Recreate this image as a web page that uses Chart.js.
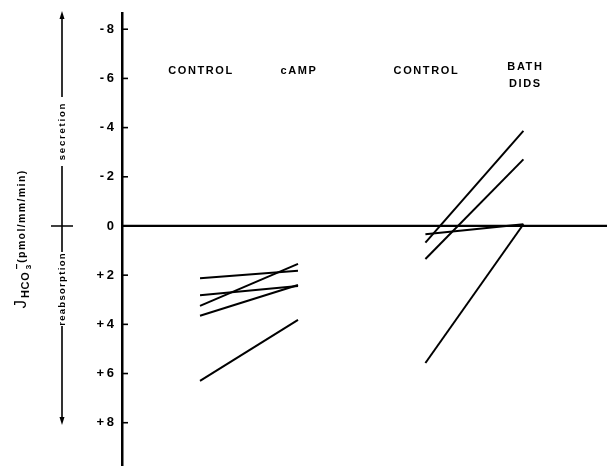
<!DOCTYPE html>
<html>
<head>
<meta charset="utf-8">
<script src="https://cdn.jsdelivr.net/npm/chart.js@4"></script>
<style>
  html, body { margin: 0; padding: 0; background: #fff; }
  #wrap { width: 607px; height: 466px; }
</style>
</head>
<body>
<div id="wrap"><canvas id="chart"></canvas></div>
<script>
// groups along the x axis
const groupLabels = [['CONTROL'], ['cAMP'], ['CONTROL'], ['BATH', 'DIDS']];
const groupX = [1, 2, 3.3, 4.3];
const yTicks = [-8, -6, -4, -2, 0, 2, 4, 6, 8];

// J HCO3- per tubule (negative = secretion, positive = reabsorption)
const campControl = [2.13, 3.25, 2.82, 3.65, 6.30];
const campAfter = [1.82, 1.54, 2.44, 2.40, 3.82];
const didsControl = [0.68, 1.34, 0.34, 5.57];
const didsAfter = [-3.87, -2.71, -0.07, -0.07];

const FONT = '"Liberation Sans", Arial, sans-serif';

function pairs(before, after, x0, x1) {
    return before.map((v, i) => ({
        data: [{ x: x0, y: v }, { x: x1, y: after[i] }],
        borderColor: '#000',
        borderWidth: 2,
        pointRadius: 0,
        fill: false
    }));
}

const datasets = [
    ...pairs(campControl, campAfter, groupX[0], groupX[1]),
    ...pairs(didsControl, didsAfter, groupX[2], groupX[3])
];

function arrowHead(ctx, x, y, dir) {
    ctx.beginPath();
    ctx.moveTo(x, y);
    ctx.lineTo(x - 2.5, y - dir * 8);
    ctx.lineTo(x + 2.5, y - dir * 8);
    ctx.closePath();
    ctx.fill();
}

function rotatedText(ctx, text, x, y, font, spacing) {
    ctx.save();
    ctx.translate(x, y);
    ctx.rotate(-Math.PI / 2);
    ctx.font = font;
    ctx.letterSpacing = spacing;
    ctx.textAlign = 'center';
    ctx.textBaseline = 'middle';
    ctx.fillText(text, 0, 0);
    ctx.restore();
}

const decorations = {
    id: 'decorations',
    afterDraw(chart) {
        const ctx = chart.ctx;
        const xs = chart.scales.x;
        const ys = chart.scales.y;
        const left = chart.chartArea.left;
        ctx.save();
        ctx.fillStyle = '#000';
        ctx.strokeStyle = '#000';

        // zero line
        const y0 = ys.getPixelForValue(0);
        ctx.lineWidth = 2.2;
        ctx.beginPath();
        ctx.moveTo(left, y0);
        ctx.lineTo(chart.chartArea.right, y0);
        ctx.stroke();

        // tick marks on the inside of the axis
        ctx.lineWidth = 1.6;
        yTicks.forEach(v => {
            const y = ys.getPixelForValue(v);
            ctx.beginPath();
            ctx.moveTo(left, y);
            ctx.lineTo(left + 6, y);
            ctx.stroke();
        });

        // group labels
        ctx.font = 'bold 11px ' + FONT;
        ctx.letterSpacing = '1.6px';
        ctx.textAlign = 'center';
        ctx.textBaseline = 'middle';
        groupLabels.forEach((lines, i) => {
            const x = xs.getPixelForValue(groupX[i]);
            if (lines.length === 1) {
                ctx.fillText(lines[0], x + 1, 71);
            } else {
                ctx.fillText(lines[0], x + 2, 67);
                ctx.fillText(lines[1], x + 2, 84);
            }
        });

        // secretion / reabsorption arrow
        const ax = 62;
        ctx.lineWidth = 1.6;
        ctx.beginPath();
        ctx.moveTo(ax, 18); ctx.lineTo(ax, 97);
        ctx.moveTo(ax, 166); ctx.lineTo(ax, 252);
        ctx.moveTo(ax, 326); ctx.lineTo(ax, 418);
        ctx.moveTo(51, y0); ctx.lineTo(73, y0);
        ctx.stroke();
        arrowHead(ctx, ax, 11, -1);
        arrowHead(ctx, ax, 425, 1);
        rotatedText(ctx, 'secretion', ax, 131, 'bold 9.5px ' + FONT, '1.8px');
        rotatedText(ctx, 'reabsorption', ax, 289, 'bold 9.5px ' + FONT, '1.3px');

        // y axis title: J HCO3- (pmol/mm/min)
        ctx.save();
        ctx.translate(26, 238);
        ctx.rotate(-Math.PI / 2);
        ctx.textAlign = 'left';
        ctx.textBaseline = 'alphabetic';
        const parts = [
            { t: 'J', f: '17px ' + FONT, dy: 0, sp: '0px' },
            { t: 'HCO', f: 'bold 11px ' + FONT, dy: 3, sp: '0.8px' },
            { t: '3', f: 'bold 8px ' + FONT, dy: 5, sp: '0px' },
            { t: '(pmol/mm/min)', f: 'bold 10.5px ' + FONT, dy: -1, sp: '1.4px' }
        ];
        let total = 0;
        parts.forEach(p => {
            ctx.font = p.f;
            ctx.letterSpacing = p.sp;
            p.w = ctx.measureText(p.t).width;
            total += p.w + 2;
        });
        let cx = -total / 2;
        parts.forEach((p, i) => {
            ctx.font = p.f;
            ctx.letterSpacing = p.sp;
            ctx.fillText(p.t, cx, p.dy);
            if (i === 2) {
                ctx.font = 'bold 10px ' + FONT;
                ctx.letterSpacing = '0px';
                ctx.fillText('\u2212', cx, -6);
            }
            cx += p.w + 2;
        });
        ctx.restore();

        ctx.restore();
    }
};

new Chart(document.getElementById('chart'), {
    type: 'line',
    data: { datasets: datasets },
    options: {
        responsive: true,
        maintainAspectRatio: false,
        animation: false,
        layout: { padding: { top: 13, left: 0, right: 0, bottom: 0 } },
        plugins: {
            legend: { display: false },
            tooltip: { enabled: false }
        },
        scales: {
            x: {
                type: 'linear',
                display: false,
                min: 0.204,
                max: 5.153
            },
            y: {
                type: 'linear',
                reverse: true,
                min: -8.66,
                max: 9.76,
                afterFit: s => { s.width = 122; s.paddingTop = 0; s.paddingBottom = 0; },
                afterBuildTicks: s => { s.ticks = yTicks.map(v => ({ value: v })); },
                border: { display: true, color: '#000', width: 2.5 },
                grid: { display: false, drawTicks: false },
                ticks: {
                    color: '#000',
                    padding: 8,
                    font: { family: FONT, weight: 'bold', size: 13 },
                    callback: v => v > 0 ? '+\u2009' + v : (v < 0 ? '-\u2009' + Math.abs(v) : '0')
                }
            }
        }
    },
    plugins: [decorations]
});
</script>
</body>
</html>
